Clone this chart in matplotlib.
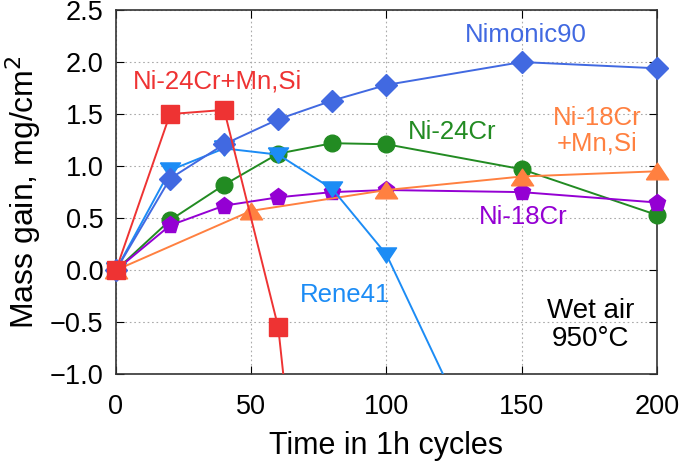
import matplotlib.pyplot as plt
import numpy as np

plt.rcParams['font.family'] = ['Liberation Sans', 'DejaVu Sans']

# data
t_main = [0, 20, 40, 60, 80, 100, 150, 200]
nimonic90 = [0.0, 0.88, 1.21, 1.45, 1.63, 1.78, 2.00, 1.94]
ni24cr = [0.0, 0.48, 0.82, 1.12, 1.22, 1.21, 0.97, 0.53]
ni18cr = [0.0, 0.43, 0.62, 0.70, 0.75, 0.77, 0.75, 0.65]

t_ni24mn = [0, 20, 40, 60, 80]
ni24cr_mn = [0.0, 1.50, 1.54, -0.55, -5.4]

t_rene = [0, 20, 40, 60, 80, 100, 150]
rene41 = [0.0, 0.96, 1.17, 1.11, 0.78, 0.15, -2.6]

t_ni18mn = [0, 50, 100, 150, 200]
ni18cr_mn = [0.0, 0.57, 0.77, 0.90, 0.95]

c_red = '#EE3333'
c_royal = '#4169E1'
c_dodger = '#1C8CF5'
c_green = '#228B22'
c_violet = '#9400D3'
c_orange = '#FF8040'

tri_up = [(-1, -0.75), (1, -0.75), (0, 0.75), (-1, -0.75)]
tri_down = [(-1, 0.75), (1, 0.75), (0, -0.75), (-1, 0.75)]

fig = plt.figure(figsize=(6.85, 4.66), dpi=100)
ax = fig.add_axes([0.1693, 0.197, 0.7897, 0.7815])

series = [
    (t_main, ni24cr, c_green, 'o', 12),
    (t_main, ni18cr, c_violet, 'p', 12.5),
    (t_ni18mn, ni18cr_mn, c_orange, tri_up, 16),
    (t_rene, rene41, c_dodger, tri_down, 14.5),
    (t_main, nimonic90, c_royal, 'D', 11),
    (t_ni24mn, ni24cr_mn, c_red, 's', 12.5),
]

ymin, ymax = -1.0, 2.5
for i, (t, y, c, m, s) in enumerate(series):
    t = np.array(t)
    y = np.array(y)
    ax.plot(t, y, color=c, lw=1.4, zorder=3 + i)
    keep = (y >= ymin) & (y <= ymax)
    ax.plot(t[keep], y[keep], ls='none', marker=m, ms=s, color=c,
            mec=c, clip_on=False, zorder=3 + i)

ax.set_xlim(0, 200)
ax.set_ylim(ymin, ymax)
ax.set_xticks([0, 50, 100, 150, 200])
ax.set_yticks(np.arange(-1.0, 2.51, 0.5))
ax.set_yticklabels(['\u22121.0', '\u22120.5', '0.0', '0.5', '1.0', '1.5', '2.0', '2.5'])
ax.tick_params(direction='in', top=True, right=True, labelsize=19.5, length=6)
ax.tick_params(axis='x', pad=14)
ax.tick_params(axis='y', pad=9)
ax.grid(True, linestyle=(0, (1.5, 2.5)), color='#aaaaaa', lw=0.8)
for s in ax.spines.values():
    s.set_linewidth(1.2)
    s.set_color('#333333')

ax.set_xlabel('Time in 1h cycles', fontsize=22, labelpad=8)
ax.set_ylabel('Mass gain, mg/cm$^2$', fontsize=23, labelpad=5)

fs = 18.5
ax.text(151.5, 2.26, 'Nimonic90', color=c_royal, fontsize=fs, ha='center', va='center')
ax.text(37.4, 1.81, 'Ni-24Cr+Mn,Si', color=c_red, fontsize=fs, ha='center', va='center')
ax.text(124.4, 1.33, 'Ni-24Cr', color=c_green, fontsize=fs, ha='center', va='center')
ax.text(177.8, 1.34, 'Ni-18Cr\n+Mn,Si', color=c_orange, fontsize=fs, ha='center', va='center',
        linespacing=1.1)
ax.text(150.4, 0.51, 'Ni-18Cr', color=c_violet, fontsize=fs, ha='center', va='center')
ax.text(84.8, -0.24, 'Rene41', color=c_dodger, fontsize=fs, ha='center', va='center')
ax.text(191.5, -0.53, 'Wet air\n950\u00b0C', color='black', fontsize=20, ha='right', va='center',
        linespacing=1.1, multialignment='center')

fig.savefig('out.png', dpi=100)
